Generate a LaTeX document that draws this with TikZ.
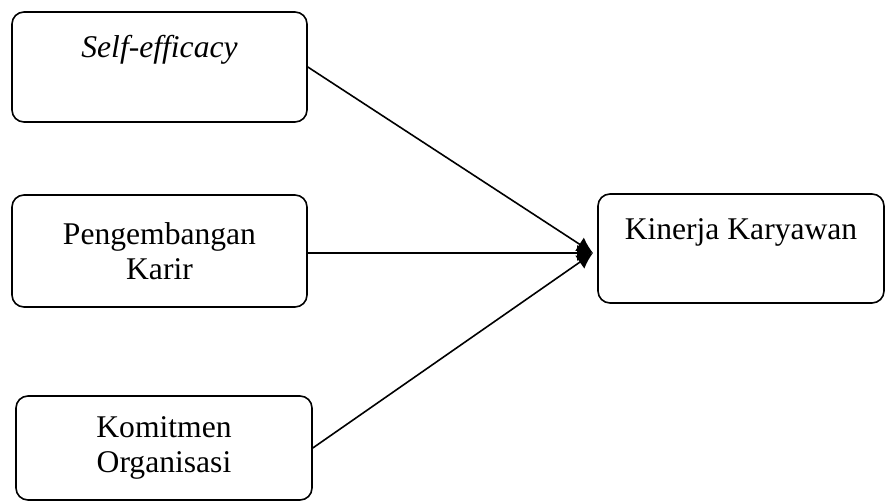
\documentclass[tikz,border=0pt]{standalone}
\usepackage{fontspec}
\setmainfont{Liberation Serif}
\usetikzlibrary{positioning,
	calc,
	arrows.meta}
\newcommand{\varfont}{\fontsize{15.8}{17.5}\selectfont}
\tikzstyle{var}=[draw, rounded corners=6pt, line width=0.8pt, inner sep=0,
		align=center, font=\varfont]
\tikzstyle{toplbl}=[anchor=base, yshift=-23pt, inner sep=0, font=\varfont]
\tikzstyle{link}=[-{Latex[length=8pt, width=8pt]}, line width=0.8pt]

\begin{document}
\begin{tikzpicture}[x=0.5pt, y=-0.5pt]
            \useasboundingbox (0,0) rectangle (885,501);
            % independent variables
            \node[var, minimum width=147.5pt, minimum height=55pt,
                label={[toplbl]north:\textit{Self-efficacy}}] (self) at (159.5,67) {};
            \node[var, minimum width=147.5pt, minimum height=56pt] (karir) at (159.5,251)
                {Pengembangan\\Karir};
            \node[var, minimum width=148pt, minimum height=52pt] (komit) at (164,448)
                {Komitmen\\Organisasi};
            % dependent variable
            \node[var, minimum width=143pt, minimum height=54.5pt,
                label={[toplbl]north:Kinerja Karyawan}] (kinerja) at (741,248.5) {};
            \coordinate (tip) at (593,253);
            % paths
            \draw[link] (self.east) -- (tip);
            \draw[link] (karir.east |- tip) -- (tip);
            \draw[link] (komit.east) -- (tip);
        \end{tikzpicture}
\end{document}
